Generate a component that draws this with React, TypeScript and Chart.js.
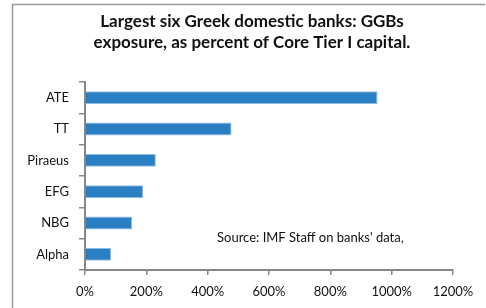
import React, { useEffect, useRef } from "react";
import { Chart, registerables } from "chart.js";

Chart.register(...registerables);

const titleLines = [
  "Largest six Greek domestic banks: GGBs",
  "exposure, as percent of Core Tier I capital.",
];
const categories = ["ATE", "TT", "Piraeus", "EFG", "NBG", "Alpha"];
const exposurePct = [954, 478, 231, 190, 154, 85];
const xTickValues = [0, 200, 400, 600, 800, 1000, 1200];
const sourceNote = "Source: IMF Staff on banks' data,";

const FONT = "Lato, 'Open Sans', sans-serif";
const AXIS_COLOR = "#868686";

const decorPlugin = {
  id: "decor",
  beforeDraw(chart: any) {
    const ctx = chart.ctx;
    ctx.save();
    ctx.strokeStyle = "#9a9a9a";
    ctx.lineWidth = 1.5;
    ctx.beginPath();
    ctx.moveTo(12.5, chart.height + 2);
    ctx.lineTo(12.5, 4.5);
    ctx.lineTo(485, 4.5);
    ctx.stroke();
    ctx.restore();
  },
  afterDraw(chart: any) {
    const ctx = chart.ctx;
    ctx.save();
    ctx.fillStyle = "#111";
    ctx.textAlign = "center";
    ctx.textBaseline = "middle";
    ctx.font = `bold 17px ${FONT}`;
    ctx.fillText(titleLines[0], 252, 22);
    ctx.fillText(titleLines[1], 252, 43);
    ctx.font = `13px ${FONT}`;
    ctx.textAlign = "left";
    ctx.fillStyle = "#111";
    ctx.fillText(sourceNote, 217, 238);
    ctx.restore();
  },
};

export default function App() {
  const ref = useRef<HTMLCanvasElement>(null);
  useEffect(() => {
    if (!ref.current) return;
    const chart = new Chart(ref.current, {
      type: "bar",
      data: {
        labels: categories,
        datasets: [
          {
            data: exposurePct,
            backgroundColor: "#2a7fc3",
            borderColor: "#8cbde5",
            borderWidth: 1,
            barPercentage: 0.41,
            categoryPercentage: 1,
          },
        ],
      },
      options: {
        indexAxis: "y",
        animation: false,
        responsive: false,
        maintainAspectRatio: false,
        layout: { padding: { left: 0, right: 33, top: 82, bottom: 0 } },
        plugins: {
          legend: { display: false },
          title: { display: false },
          tooltip: { enabled: false },
        },
        scales: {
          x: {
            min: 0,
            max: 1200,
            afterFit: (s: any) => {
              s.height = 38;
            },
            afterBuildTicks: (s: any) => {
              s.ticks = xTickValues.map((v) => ({ value: v }));
            },
            ticks: {
              callback: (v: any) => `${v}%`,
              color: "#111",
              font: { family: FONT, size: 13 },
              padding: 9,
              maxRotation: 0,
              autoSkip: false,
            },
            grid: {
              drawOnChartArea: false,
              drawTicks: true,
              tickLength: 5,
              color: AXIS_COLOR,
              lineWidth: 1.5,
            },
            border: { display: true, color: AXIS_COLOR, width: 2 },
          },
          y: {
            afterFit: (s: any) => {
              s.width = 85;
            },
            ticks: {
              color: "#111",
              font: { family: FONT, size: 13 },
              padding: 10,
            },
            grid: {
              offset: true,
              drawOnChartArea: false,
              drawTicks: true,
              tickLength: 6,
              color: AXIS_COLOR,
              lineWidth: 1.5,
            },
            border: { display: true, color: AXIS_COLOR, width: 2 },
          },
        },
      },
      plugins: [decorPlugin],
    });
    return () => chart.destroy();
  }, []);
  return (
    <div style={{ position: "fixed", left: 0, top: 0, width: 486, height: 308, background: "#fff" }}>
      <canvas ref={ref} width={486} height={308} style={{ display: "block" }} />
    </div>
  );
}
